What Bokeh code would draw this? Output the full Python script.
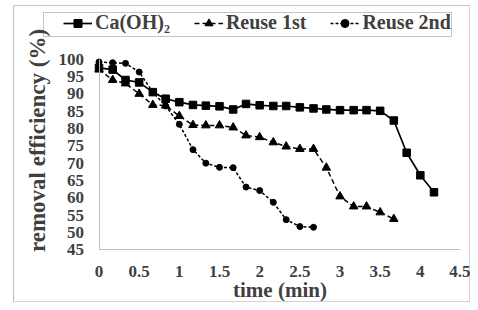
import math
from bokeh.plotting import figure
from bokeh.models import (Legend, LegendItem, BoxAnnotation, FixedTicker, Range1d,
                          LinearAxis, Label)
from bokeh.embed import file_html
from bokeh.resources import INLINE

# ---- data ----
ca_time = [0, 0.17, 0.33, 0.5, 0.67, 0.83, 1.0, 1.17, 1.33, 1.5, 1.67, 1.83, 2.0,
           2.17, 2.33, 2.5, 2.67, 2.83, 3.0, 3.17, 3.33, 3.5, 3.67, 3.83, 4.0, 4.17]
ca_eff = [97.5, 97.0, 94.0, 93.3, 90.5, 88.6, 87.6, 86.8, 86.6, 86.4, 85.5, 87.1, 86.7,
          86.5, 86.5, 86.1, 85.8, 85.5, 85.3, 85.3, 85.3, 85.1, 82.3, 73.0, 66.5, 61.6]

r1_time = [0, 0.17, 0.33, 0.5, 0.67, 0.83, 1.0, 1.17, 1.33, 1.5, 1.67, 1.83, 2.0,
           2.17, 2.33, 2.5, 2.67, 2.83, 3.0, 3.17, 3.33, 3.5, 3.67]
r1_eff = [97.0, 94.0, 93.0, 90.0, 86.8, 86.6, 83.6, 81.0, 80.9, 80.9, 80.3, 78.0, 77.5,
          76.0, 74.8, 74.1, 74.1, 68.7, 60.4, 57.5, 57.5, 55.8, 53.9]

r2_time = [0, 0.17, 0.33, 0.5, 0.67, 0.83, 1.0, 1.17, 1.33, 1.5, 1.67, 1.83, 2.0,
           2.17, 2.33, 2.5, 2.67]
r2_eff = [99.2, 99.0, 98.8, 96.3, 90.5, 86.5, 81.2, 73.9, 70.0, 68.8, 68.7, 63.1, 62.1,
          58.7, 53.7, 51.7, 51.5]

x_ticks = [0, 0.5, 1, 1.5, 2, 2.5, 3, 3.5, 4, 4.5]
y_ticks = [45, 50, 55, 60, 65, 70, 75, 80, 85, 90, 95, 100]
x_bounds = (0, 4.5)
y_bounds = (45, 100)
series_names = ["Ca(OH)\u2082", "Reuse 1st", "Reuse 2nd"]
x_title = "time (min)"
y_title = "removal efficiency (%)"

FONT = "Liberation Serif"
TXT = "#404040"
W, H = 470, 302

# the plotting frame fills the whole canvas; axes are pinned at fixed data locations
p = figure(width=W, height=H, output_backend="svg", toolbar_location=None,
           x_range=Range1d(-1.2262, 4.6245), y_range=Range1d(29.793, 116.94),
           x_axis_location=None, y_axis_location=None,
           min_border_left=0, min_border_right=0, min_border_top=0, min_border_bottom=0)
p.outline_line_color = None
p.grid.visible = False

xaxis = LinearAxis(fixed_location=y_bounds[0], bounds=x_bounds,
                   ticker=FixedTicker(ticks=x_ticks), axis_label=x_title)
yaxis = LinearAxis(fixed_location=x_bounds[0], bounds=y_bounds,
                   ticker=FixedTicker(ticks=y_ticks))
xaxis.major_label_overrides = {t: ("%g" % t) for t in x_ticks}
for ax in (xaxis, yaxis):
    ax.axis_line_color = "#BFBFBF"
    ax.axis_line_width = 1
    ax.major_tick_line_color = None
    ax.minor_tick_line_color = None
    ax.major_tick_out = 0
    ax.major_tick_in = 0
    ax.major_label_text_font = FONT
    ax.major_label_text_font_style = "bold"
    ax.major_label_text_font_size = "17px"
    ax.major_label_text_color = TXT
    ax.axis_label_text_font = FONT
    ax.axis_label_text_font_style = "bold"
    ax.axis_label_text_font_size = "21px"
    ax.axis_label_text_color = TXT
xaxis.major_label_standoff = 16
yaxis.major_label_standoff = 15
xaxis.axis_label_standoff = -2
p.add_layout(xaxis, "below")
p.add_layout(yaxis, "left")

ytitle = Label(x=37, y=H - 140, x_units="screen", y_units="screen", text=y_title,
               angle=math.pi / 2, text_align="center", text_baseline="middle",
               text_font=FONT, text_font_style="bold", text_font_size="23px",
               text_color=TXT)
p.add_layout(ytitle)

l1 = p.line(ca_time, ca_eff, line_color="black", line_width=1.7)
m1 = p.scatter(ca_time, ca_eff, marker="square", size=7.5, color="black")
l2 = p.line(r1_time, r1_eff, line_color="black", line_width=1.5, line_dash="5 3")
m2 = p.scatter(r1_time, r1_eff, marker="triangle", size=8.5, color="black")
l3 = p.line(r2_time, r2_eff, line_color="black", line_width=1.5, line_dash="3 2")
m3 = p.scatter(r2_time, r2_eff, marker="circle", size=6, color="black")

legend = Legend(items=[LegendItem(label=series_names[0], renderers=[l1, m1]),
                       LegendItem(label=series_names[1], renderers=[l2, m2]),
                       LegendItem(label=series_names[2], renderers=[l3, m3])],
                orientation="horizontal", location=(63, H - 34),
                padding=0, margin=0, spacing=24, glyph_width=29, glyph_height=20,
                label_standoff=3, label_height=20,
                label_text_font=FONT, label_text_font_style="bold",
                label_text_font_size="20px", label_text_color=TXT,
                border_line_alpha=0, background_fill_alpha=0)
p.add_layout(legend, "center")

legend_box = BoxAnnotation(left=43, right=451, top=H - 12, bottom=H - 36,
                           left_units="screen", right_units="screen",
                           top_units="screen", bottom_units="screen",
                           fill_alpha=0, line_color="#404040", line_width=1)
p.add_layout(legend_box)
outer_box = BoxAnnotation(left=13, right=469.4, top=H - 5, bottom=0.7,
                          left_units="screen", right_units="screen",
                          top_units="screen", bottom_units="screen",
                          fill_alpha=0, line_color="#404040", line_width=1.2)
p.add_layout(outer_box)

open("out.html", "w").write(file_html(p, INLINE))
